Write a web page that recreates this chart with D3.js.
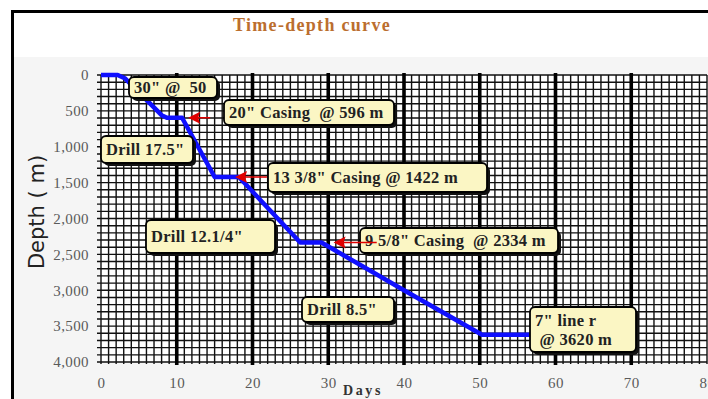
<!DOCTYPE html>
<html><head><meta charset="utf-8">
<script src="https://cdn.jsdelivr.net/npm/d3@7"></script>
<style>body{margin:0;background:#fff;overflow:hidden}svg{display:block}</style>
</head><body>
<svg id="c" width="708" height="399"></svg>
<script>
// ---- data ----
const days   = [0, 2.2, 3.2, 8.0, 8.7, 10.7, 15.0, 18.2, 26.3, 29.1, 40.0, 50.3, 58.0];
const depths = [0, 0,   50,  560, 596, 596,  1422, 1422, 2334, 2334, 3000, 3620, 3620];
const xTicks = [0, 10, 20, 30, 40, 50, 60, 70, 80];
const yTicks = [0, 500, 1000, 1500, 2000, 2500, 3000, 3500, 4000];
const labelTexts = [
  ['30" @  50'],
  ['20" Casing  @ 596 m'],
  ['Drill 17.5"'],
  ['13 3/8" Casing @ 1422 m'],
  ['Drill 12.1/4"'],
  ['9 5/8" Casing  @ 2334 m'],
  ['Drill 8.5"'],
  ['7" line r', ' @ 3620 m']
];
// arrows: tip day, tail day, depth
const arrowTip   = [11.5, 17.7, 30.7];
const arrowTail  = [14.4, 21.9, 36.4];
const arrowDepth = [596, 1422, 2334];

// ---- layout ----
const boxes = [
  {x:129, y:77,  w:88,  h:21},
  {x:224, y:100, w:170, h:25},
  {x:101, y:136, w:92,  h:27},
  {x:268, y:163, w:219, h:29},
  {x:146, y:220, w:129, h:33},
  {x:360, y:228, w:198, h:25},
  {x:302, y:297, w:92,  h:25},
  {x:530, y:307, w:106, h:45}
];
const serif = 'Liberation Serif, Times New Roman, serif';

const svg = d3.select('#c');
const x = d3.scaleLinear().domain([0, 80]).range([101, 707]);
const y = d3.scaleLinear().domain([0, 4000]).range([75, 362]);

// frame & background
svg.append('rect').attr('x',0).attr('y',0).attr('width',708).attr('height',399).attr('fill','#fff');
svg.append('rect').attr('x',13).attr('y',57).attr('width',700).attr('height',350).attr('fill','#f5f5f5');
svg.append('rect').attr('x',12.5).attr('y',11.5).attr('width',710).attr('height',400)
  .attr('fill','none').attr('stroke','#000').attr('stroke-width',3);

// title
svg.append('text').attr('x',312).attr('y',31).attr('text-anchor','middle')
  .attr('font-family',serif).attr('font-weight','bold')
  .attr('font-size',18).attr('letter-spacing',1.3).attr('fill','#bb6e2e').text('Time-depth curve');

// plot background
svg.append('rect').attr('x',x(0)).attr('y',y(0)).attr('width',x(80)-x(0)).attr('height',y(4000)-y(0)).attr('fill','#fff');

// minor grid
const g = svg.append('g');
g.selectAll('line.h').data(d3.range(0, 4001, 100)).join('line')
  .attr('x1', x(0)-4).attr('x2', x(80)).attr('y1', d=>y(d)).attr('y2', d=>y(d))
  .attr('stroke','#111').attr('stroke-width',1.4);
g.selectAll('line.v').data(d3.range(0, 81, 1)).join('line')
  .attr('x1', d=>x(d)).attr('x2', d=>x(d)).attr('y1', y(0)).attr('y2', y(4000)+2)
  .attr('stroke','#111').attr('stroke-width',1.4);
// major vertical lines
g.selectAll('line.m').data(xTicks.filter(d=>d>0 && d<80)).join('line')
  .attr('x1', d=>x(d)).attr('x2', d=>x(d)).attr('y1', y(0)-2).attr('y2', y(4000)+3)
  .attr('stroke','#000').attr('stroke-width',3.6);

// axes labels
const yAxis = d3.axisLeft(y).tickValues(yTicks).tickSize(0).tickPadding(12).tickFormat(d3.format(','));
const ya = svg.append('g').attr('transform',`translate(${x(0)},0)`).call(yAxis);
ya.select('.domain').remove();
ya.selectAll('text').attr('font-family',serif).attr('font-size',15).attr('letter-spacing',0.4).attr('fill','#5a5a5a');

const xAxis = d3.axisBottom(x).tickValues(xTicks).tickSize(0).tickPadding(15);
const xa = svg.append('g').attr('transform',`translate(0,${y(4000)})`).call(xAxis);
xa.select('.domain').remove();
xa.selectAll('text').attr('font-family',serif).attr('font-size',15).attr('letter-spacing',0.4).attr('fill','#5a5a5a');

svg.append('text').attr('x',363).attr('y',395).attr('text-anchor','middle')
  .attr('font-family',serif).attr('font-weight','bold')
  .attr('font-size',14).attr('letter-spacing',2.6).attr('fill','#333').text('Days');
svg.append('text').attr('transform','translate(44,212) rotate(-90)').attr('text-anchor','middle')
  .attr('font-family','DejaVu Sans, sans-serif').attr('font-size',21).attr('fill','#222').text('Depth ( m)');

// curve
const pts = days.map((d,i)=>[d, depths[i]]);
svg.append('path').datum(pts)
  .attr('d', d3.line().x(d=>x(d[0])).y(d=>y(d[1])))
  .attr('fill','none').attr('stroke','#1010ff').attr('stroke-width',4.5).attr('stroke-linejoin','round');

// label boxes
const lb = svg.append('g');
boxes.forEach((b,i)=>{
  lb.append('rect').attr('x',b.x+3).attr('y',b.y+3).attr('width',b.w).attr('height',b.h).attr('rx',5)
    .attr('fill','#111');
  lb.append('rect').attr('x',b.x).attr('y',b.y).attr('width',b.w).attr('height',b.h).attr('rx',5)
    .attr('fill','#fbf6c4').attr('stroke','#000').attr('stroke-width',1.8);
  const lines = labelTexts[i];
  const lh = 19;
  const t0 = b.y + b.h/2 - (lines.length-1)*lh/2 + 5.5;
  lines.forEach((s,j)=>{
    lb.append('text').attr('x', b.x+5).attr('y', t0 + j*lh)
      .attr('font-family',serif).attr('font-weight','bold')
      .attr('font-size',16.5).attr('letter-spacing',0.3).attr('fill','#222')
      .style('white-space','pre').text(s);
  });
});

// arrows (on top: the 9 5/8 arrow crosses its box text)
const arr = svg.append('g');
arrowTip.forEach((t,i)=>{
  arr.append('line').attr('x1', x(arrowTail[i])).attr('x2', x(t)+8)
    .attr('y1', y(arrowDepth[i])).attr('y2', y(arrowDepth[i]))
    .attr('stroke','#e00000').attr('stroke-width',1.5);
  arr.append('path').attr('d', `M${x(t)},${y(arrowDepth[i])} l12,-6 l-2,6 l2,6 Z`).attr('fill','#e00000');
});
</script>
</body></html>
